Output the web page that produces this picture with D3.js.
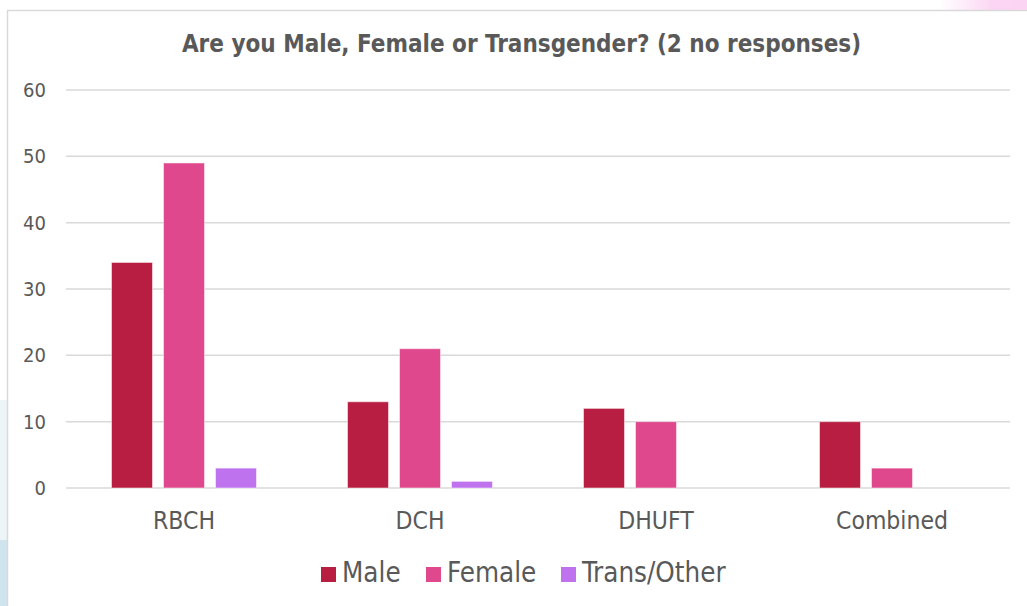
<!DOCTYPE html>
<html>
<head>
<meta charset="utf-8">
<script src="https://cdn.jsdelivr.net/npm/d3@7"></script>
<style>
  html, body { margin: 0; padding: 0; background: #fff; }
  svg { display: block; }
  text { fill: #595959; }
</style>
</head>
<body>
<div id="chart"></div>
<script>
// Data
const categories = ["RBCH", "DCH", "DHUFT", "Combined"];
const seriesNames = ["Male", "Female", "Trans/Other"];
const male = [34, 13, 12, 10];
const female = [49, 21, 10, 3];
const transOther = [3, 1, 0, 0];
const yTicks = [0, 10, 20, 30, 40, 50, 60];
const colors = ["#B81E41", "#DF488C", "#BE72EE"];

const W = 1027, H = 606;
const margin = { top: 90, right: 17, bottom: 118, left: 66 };
const FONT = "'DejaVu Sans Condensed', 'DejaVu Sans', sans-serif";

const svg = d3.select("#chart").append("svg")
    .attr("width", W)
    .attr("height", H);

// background decorations from the slide behind the chart
const defs = svg.append("defs");
const pink = defs.append("linearGradient").attr("id", "pinkFade");
pink.append("stop").attr("offset", "0%").attr("stop-color", "#fff");
pink.append("stop").attr("offset", "60%").attr("stop-color", "#fbd6f4");
pink.append("stop").attr("offset", "100%").attr("stop-color", "#fbd3f3");
svg.append("rect").attr("x", 940).attr("y", 0).attr("width", 87).attr("height", 10)
    .attr("fill", "url(#pinkFade)");
svg.append("rect").attr("x", 0).attr("y", 400).attr("width", 7).attr("height", 140)
    .attr("fill", "#eef5f8");
svg.append("rect").attr("x", 0).attr("y", 540).attr("width", 7).attr("height", 66)
    .attr("fill", "#cfe4ec");

// chart frame
svg.append("rect")
    .attr("x", 7.5).attr("y", 10.5)
    .attr("width", W + 10).attr("height", H + 10)
    .attr("fill", "#fff")
    .attr("stroke", "#d9d9d9")
    .attr("stroke-width", 1.5);

const innerW = W - margin.left - margin.right;
const innerH = H - margin.top - margin.bottom;

const g = svg.append("g").attr("transform", `translate(${margin.left},${margin.top})`);

// scales
const x0 = d3.scaleBand()
    .domain(categories)
    .range([0, innerW])
    .paddingInner(0.3856)
    .paddingOuter(0.1928);

const x1 = d3.scaleBand()
    .domain(seriesNames)
    .range([0, x0.bandwidth()])
    .paddingInner(0.2115);

const y = d3.scaleLinear()
    .domain([0, 60])
    .range([innerH, 0]);

// gridlines
g.selectAll(".grid")
    .data(yTicks)
    .enter().append("line")
    .attr("class", "grid")
    .attr("x1", 0).attr("x2", innerW)
    .attr("y1", d => y(d)).attr("y2", d => y(d))
    .attr("stroke", "#d9d9d9")
    .attr("stroke-width", 1.5);

// y axis labels
const yAxis = g.append("g")
    .call(d3.axisLeft(y).tickValues(yTicks).tickSize(0).tickPadding(20));
yAxis.select(".domain").remove();
yAxis.selectAll("text")
    .attr("fill", "#595959")
    .style("font-family", FONT)
    .style("font-size", "20px");

// bars
const allSeries = [male, female, transOther];
const rows = categories.map((c, i) => ({
    cat: c,
    values: seriesNames.map((s, j) => ({ name: s, value: allSeries[j][i], color: colors[j] }))
}));

const groups = g.selectAll(".cat")
    .data(rows)
    .enter().append("g")
    .attr("class", "cat")
    .attr("transform", d => `translate(${x0(d.cat)},0)`);

groups.selectAll("rect")
    .data(d => d.values.filter(v => v.value > 0))
    .enter().append("rect")
    .attr("x", d => x1(d.name))
    .attr("y", d => y(d.value))
    .attr("width", x1.bandwidth())
    .attr("height", d => y(0) - y(d.value))
    .attr("fill", d => d.color)
    .attr("stroke", "#fff")
    .attr("stroke-opacity", 0.5)
    .attr("stroke-width", 1);

// x axis labels
const xAxis = g.append("g")
    .attr("transform", `translate(0,${innerH})`)
    .call(d3.axisBottom(x0).tickSize(0).tickPadding(24));
xAxis.select(".domain").remove();
xAxis.selectAll("text")
    .attr("fill", "#595959")
    .style("font-family", FONT)
    .style("font-size", "24.5px");

// title
svg.append("text")
    .attr("x", 521.5)
    .attr("y", 52)
    .attr("text-anchor", "middle")
    .style("font-family", FONT)
    .style("font-weight", "bold")
    .style("font-size", "24px")
    .text("Are you Male, Female or Transgender? (2 no responses)");

// legend
const legendX = [321, 426, 561];
const legend = svg.append("g").attr("transform", "translate(0,567)");
seriesNames.forEach((s, i) => {
    legend.append("rect")
        .attr("x", legendX[i]).attr("y", 0)
        .attr("width", 15).attr("height", 15)
        .attr("fill", colors[i]);
    legend.append("text")
        .attr("x", legendX[i] + 21).attr("y", 15)
        .style("font-family", FONT)
        .style("font-size", "27.5px")
        .text(s);
});
</script>
</body>
</html>
